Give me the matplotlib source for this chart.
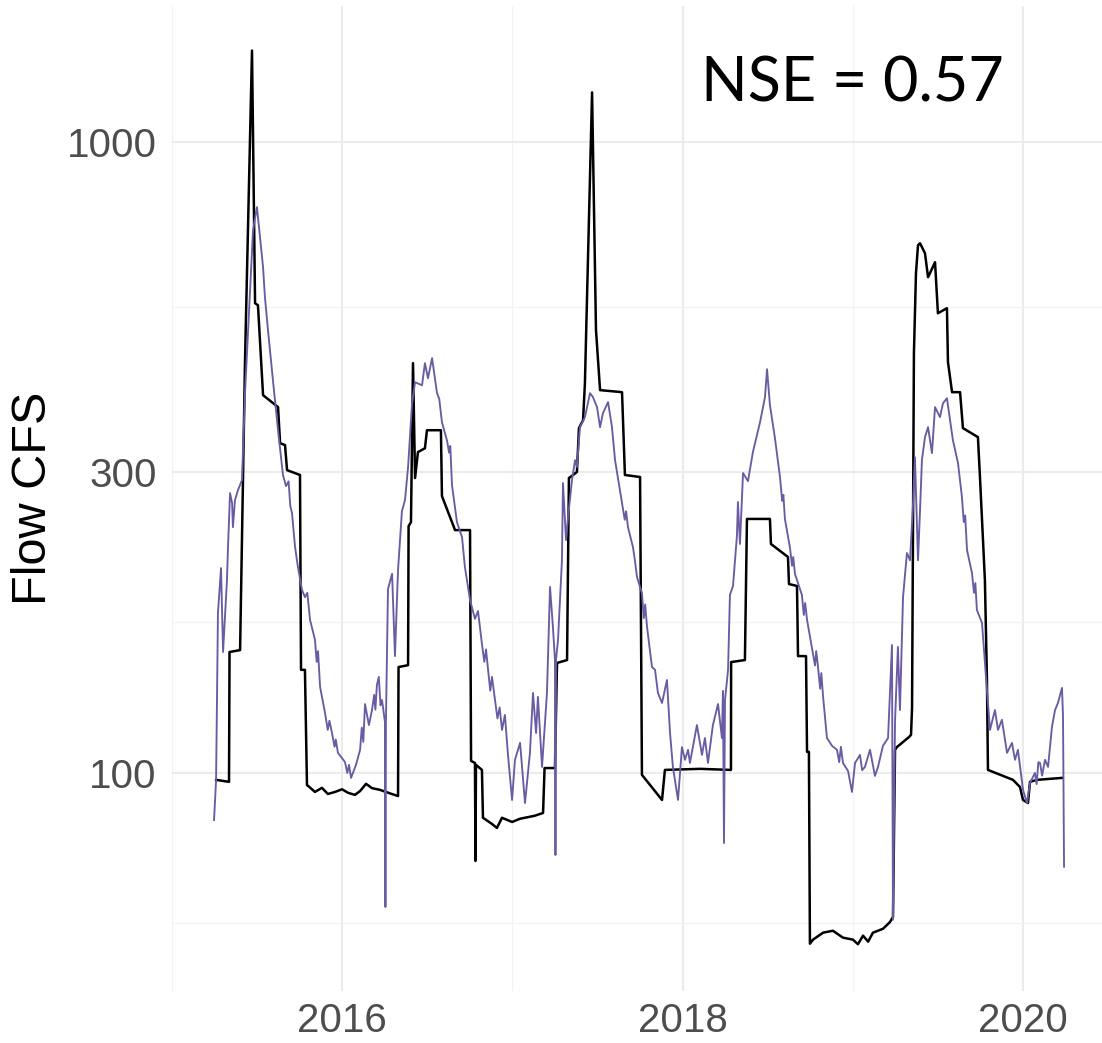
import numpy as np
import matplotlib.pyplot as plt
from matplotlib.ticker import FixedLocator, NullFormatter

plt.rcParams['font.family'] = ['Liberation Sans', 'DejaVu Sans']

# observed flow (decimal year, cfs)
obs_year = [2015.259, 2015.335, 2015.338, 2015.400, 2015.417, 2015.429, 2015.470, 2015.488,
            2015.505, 2015.535, 2015.623, 2015.635, 2015.664, 2015.676, 2015.752, 2015.758,
            2015.781, 2015.793, 2015.840, 2015.881, 2015.916, 2015.958, 2015.999, 2016.034,
            2016.075, 2016.105, 2016.140, 2016.175, 2016.222, 2016.281, 2016.328, 2016.331,
            2016.387, 2016.390, 2016.404, 2016.416, 2016.428, 2016.445, 2016.486, 2016.498,
            2016.580, 2016.586, 2016.645, 2016.663, 2016.751, 2016.757, 2016.780, 2016.783,
            2016.786, 2016.821, 2016.827, 2016.880, 2016.909, 2016.939, 2016.998, 2017.045,
            2017.074, 2017.130, 2017.180, 2017.189, 2017.250, 2017.262, 2017.321, 2017.332,
            2017.379, 2017.391, 2017.415, 2017.426, 2017.468, 2017.491, 2017.515, 2017.644,
            2017.661, 2017.750, 2017.761, 2017.879, 2017.896, 2018.102, 2018.284, 2018.285,
            2018.366, 2018.378, 2018.513, 2018.519, 2018.619, 2018.625, 2018.672, 2018.678,
            2018.725, 2018.731, 2018.742, 2018.748, 2018.766, 2018.825, 2018.883, 2018.942,
            2019.001, 2019.030, 2019.060, 2019.090, 2019.118, 2019.177, 2019.218, 2019.236,
            2019.248, 2019.259, 2019.330, 2019.342, 2019.348, 2019.359, 2019.371, 2019.383,
            2019.395, 2019.424, 2019.442, 2019.483, 2019.500, 2019.553, 2019.559, 2019.583,
            2019.630, 2019.647, 2019.735, 2019.747, 2019.776, 2019.788, 2019.794, 2019.941,
            2019.982, 2020.000, 2020.029, 2020.041, 2020.082, 2020.229]
obs_cfs = [97.5, 96.8, 155.5, 156.6, 291.3, 451.3, 1398, 555.7,
           551.6, 397.2, 380.3, 333.4, 331.0, 302.1, 296.8, 145.7,
           145.7, 95.7, 93.3, 94.7, 92.6, 93.3, 94.2, 93.0,
           92.3, 93.6, 96.1, 94.6, 94.0, 92.8, 91.9, 147.2,
           148.2, 246.2, 249.9, 446.5, 293.5, 322.7, 327.2, 349.5,
           349.5, 274.8, 249.9, 242.7, 242.7, 104.5, 103.7, 72.5,
           103.0, 101.1, 84.9, 83.0, 81.8, 84.9, 83.6, 84.6,
           84.9, 85.5, 86.4, 101.8, 101.8, 149.4, 151.0, 293.5,
           300.0, 352.2, 362.5, 415.0, 1200, 504.0, 404.6, 401.6,
           296.8, 294.6, 99.3, 90.6, 101.1, 101.5, 101.1, 149.9,
           151.0, 252.8, 252.8, 230.7, 220.0, 199.3, 197.9, 153.2,
           153.2, 108.0, 108.0, 53.6, 54.4, 55.8, 56.2, 54.8,
           54.4, 53.5, 55.2, 54.0, 55.8, 56.6, 58.0, 59.1,
           108.8, 109.9, 114.0, 114.9, 126.8, 463.0, 620.0, 686.7,
           691.7, 666.9, 611.0, 645.3, 535.8, 545.7, 448.2, 401.6,
           401.6, 352.2, 340.8, 294.6, 202.3, 140.4, 101.1, 97.5,
           95.0, 90.6, 89.6, 96.8, 97.5, 98.2]

# simulated flow (decimal year, cfs)
sim_year = [2015.247, 2015.259, 2015.270, 2015.288, 2015.300, 2015.323, 2015.329, 2015.341,
            2015.353, 2015.358, 2015.370, 2015.388, 2015.411, 2015.429, 2015.447, 2015.476,
            2015.499, 2015.517, 2015.535, 2015.546, 2015.564, 2015.593, 2015.623, 2015.652,
            2015.705, 2015.723, 2015.740, 2015.764, 2015.781, 2015.811, 2015.840, 2015.870,
            2015.899, 2015.940, 2015.975, 2016.016, 2016.052, 2016.081, 2016.105, 2016.134,
            2016.157, 2016.175, 2016.204, 2016.234, 2016.251, 2016.254, 2016.257, 2016.269,
            2016.293, 2016.310, 2016.328, 2016.351, 2016.369, 2016.387, 2016.410, 2016.428,
            2016.469, 2016.486, 2016.504, 2016.528, 2016.557, 2016.586, 2016.616, 2016.645,
            2016.674, 2016.704, 2016.721, 2016.751, 2016.780, 2016.798, 2016.821, 2016.857,
            2016.898, 2016.939, 2016.956, 2016.974, 2016.998, 2017.015, 2017.045, 2017.074,
            2017.103, 2017.121, 2017.139, 2017.150, 2017.174, 2017.203, 2017.221, 2017.238,
            2017.250, 2017.253, 2017.256, 2017.268, 2017.291, 2017.297, 2017.315, 2017.327,
            2017.350, 2017.368, 2017.379, 2017.397, 2017.426, 2017.456, 2017.473, 2017.497,
            2017.515, 2017.532, 2017.562, 2017.585, 2017.603, 2017.644, 2017.679, 2017.708,
            2017.732, 2017.761, 2017.791, 2017.820, 2017.838, 2017.855, 2017.879, 2017.908,
            2017.926, 2017.943, 2017.973, 2017.996, 2018.014, 2018.032, 2018.043, 2018.084,
            2018.114, 2018.131, 2018.149, 2018.178, 2018.208, 2018.231, 2018.237, 2018.243,
            2018.249, 2018.267, 2018.278, 2018.296, 2018.319, 2018.325, 2018.337, 2018.355,
            2018.384, 2018.413, 2018.455, 2018.484, 2018.496, 2018.513, 2018.543, 2018.572,
            2018.601, 2018.631, 2018.660, 2018.701, 2018.731, 2018.766, 2018.795, 2018.825,
            2018.848, 2018.878, 2018.907, 2018.942, 2018.972, 2018.995, 2019.013, 2019.042,
            2019.071, 2019.101, 2019.130, 2019.148, 2019.177, 2019.207, 2019.230, 2019.236,
            2019.248, 2019.265, 2019.277, 2019.295, 2019.318, 2019.336, 2019.353, 2019.365,
            2019.383, 2019.395, 2019.406, 2019.424, 2019.442, 2019.465, 2019.483, 2019.512,
            2019.530, 2019.553, 2019.571, 2019.588, 2019.618, 2019.641, 2019.671, 2019.700,
            2019.729, 2019.759, 2019.788, 2019.806, 2019.835, 2019.853, 2019.876, 2019.906,
            2019.935, 2019.953, 2019.970, 2020.000, 2020.023, 2020.041, 2020.070, 2020.100,
            2020.129, 2020.147, 2020.170, 2020.188, 2020.205, 2020.229, 2020.235, 2020.241]
sim_cfs = [84.2, 97.5, 179.3, 211.3, 155.5, 202.3, 228.2, 277.8,
           267.9, 245.3, 270.8, 281.0, 291.3, 400.2, 503.6, 725.3,
           789.5, 707.0, 633.8, 568.0, 503.6, 419.6, 349.5, 296.8,
           258.3, 228.2, 212.0, 195.0, 190.0, 174.9, 162.6, 136.9,
           124.5, 115.7, 107.6, 104.1, 98.2, 103.0, 108.8, 128.6,
           119.1, 125.8, 137.9, 130.5, 120.5, 61.3, 121.4, 195.7,
           206.9, 153.2, 209.9, 260.2, 270.8, 305.6, 384.5, 416.5,
           411.8, 446.5, 422.5, 454.8, 400.2, 360.0, 336.3, 286.1,
           249.9, 236.5, 212.0, 188.0, 175.5, 180.6, 160.1, 145.7,
           130.5, 117.0, 123.6, 106.8, 90.6, 104.9, 111.6, 89.6,
           107.6, 133.9, 115.7, 132.0, 102.2, 133.9, 197.2, 170.4,
           151.0, 74.1, 151.0, 162.6, 217.4, 288.2, 234.0, 254.6,
           291.3, 313.3, 305.6, 353.4, 366.6, 400.2, 394.5, 380.3,
           353.4, 372.0, 387.3, 353.4, 313.3, 267.9, 245.3, 228.2,
           204.4, 192.9, 170.4, 147.2, 145.7, 133.9, 129.1, 140.4,
           115.7, 102.2, 90.6, 109.9, 104.9, 108.8, 103.7, 119.1,
           106.8, 113.6, 103.7, 119.1, 128.6, 113.6, 134.9, 77.4,
           130.5, 145.7, 191.5, 197.9, 237.4, 268.9, 230.7, 298.9,
           290.2, 322.7, 360.0, 394.5, 436.7, 383.1, 338.8, 294.6,
           252.8, 227.3, 206.9, 191.5, 174.9, 154.4, 147.7, 132.4,
           113.6, 110.4, 108.8, 103.7, 100.7, 93.3, 103.7, 106.8,
           102.2, 108.8, 98.9, 102.2, 110.4, 113.6, 159.5, 58.5,
           120.9, 158.4, 125.8, 190.0, 223.2, 217.4, 264.0, 316.7,
           217.4, 261.2, 313.3, 340.8, 353.4, 321.5, 380.3, 366.6,
           385.8, 392.8, 362.5, 337.0, 310.0, 273.9, 225.6, 207.5,
           181.3, 172.9, 135.4, 117.0, 125.8, 117.0, 121.4, 107.6,
           111.6, 104.9, 108.8, 94.0, 89.6, 96.4, 100.0, 103.7,
           104.9, 102.2, 118.3, 125.8, 129.1, 136.4, 122.7, 71.0]

# short day-to-day wiggles of the simulated series on the recessions and low flows
sim_year_wiggle = [2015.670, 2015.685, 2015.695, 2015.795, 2015.850, 2015.858, 2015.915, 2015.925,
                   2015.955, 2015.962, 2016.030, 2016.040, 2016.115, 2016.124, 2016.188, 2016.195,
                   2016.215, 2016.225, 2016.570, 2016.628, 2016.635, 2016.835, 2016.845, 2016.870,
                   2016.880, 2016.912, 2016.925, 2017.660, 2017.668, 2017.718, 2017.772, 2017.780,
                   2018.585, 2018.592, 2018.643, 2018.650, 2018.712, 2018.720, 2018.778, 2018.785,
                   2018.808, 2018.815, 2018.920, 2018.930, 2019.055, 2019.652, 2019.660, 2019.712,
                   2019.720, 2020.080, 2020.090, 2020.112]
sim_cfs_wiggle = [285.0, 290.0, 265.0, 193.0, 150.0, 156.0, 117.0, 121.0,
                  110.0, 113.0, 100.0, 103.0, 118.0, 112.0, 133.0, 126.0,
                  142.0, 128.0, 392.0, 322.0, 330.0, 150.0, 157.0, 135.0,
                  142.0, 122.0, 127.0, 252.0, 260.0, 219.0, 176.0, 185.0,
                  270.0, 276.0, 213.0, 220.0, 178.0, 186.0, 148.0, 156.0,
                  136.0, 144.0, 104.0, 110.0, 101.0, 250.0, 256.0, 193.0,
                  200.0, 96.0, 104.0, 99.0]

year_ticks = [2016, 2018, 2020]
year_minor = [2015, 2017, 2019]
cfs_ticks = [100, 300, 1000]
nse = 0.57

sim_t = np.array(sim_year + sim_year_wiggle)
sim_q = np.array(sim_cfs + sim_cfs_wiggle)
order = np.argsort(sim_t, kind='stable')
sim_t, sim_q = sim_t[order], sim_q[order]

fig = plt.figure(figsize=(11.02, 10.43), dpi=100)
ax = fig.add_axes([172 / 1102, 52 / 1043, 930 / 1102, 985 / 1043])

ax.plot(obs_year, obs_cfs, color='black', lw=1.8, zorder=3)
ax.plot(sim_t, sim_q, color='#6b5ba3', lw=1.35, zorder=4)

ax.set_yscale('log')
ax.set_xlim(2015.0, 2020.464)
ax.set_ylim(45.1, 1645)

# major breaks plus midpoint minor breaks (log space for y)
ax.set_xticks(year_ticks, labels=[str(y) for y in year_ticks])
ax.xaxis.set_minor_locator(FixedLocator(year_minor))
ax.set_yticks(cfs_ticks, labels=[str(v) for v in cfs_ticks])
cfs_minor = [np.sqrt(a * b) for a, b in zip(cfs_ticks[:-1], cfs_ticks[1:])]
cfs_minor.append(cfs_ticks[0] / np.sqrt(cfs_ticks[1] / cfs_ticks[0]))
ax.yaxis.set_minor_locator(FixedLocator(cfs_minor))
ax.yaxis.set_minor_formatter(NullFormatter())
ax.xaxis.set_minor_formatter(NullFormatter())

ax.grid(which='major', color='#ebebeb', lw=1.5)
ax.grid(which='minor', color='#f2f2f2', lw=0.9)
ax.set_axisbelow(True)
for s in ax.spines.values():
    s.set_visible(False)
ax.tick_params(which='both', length=0)
ax.tick_params(axis='x', labelsize=29, labelcolor='#4d4d4d', pad=8)
ax.tick_params(axis='y', labelsize=29, labelcolor='#4d4d4d', pad=11)

fig.text(34 / 1102, 1 - 498 / 1043, 'Flow CFS', rotation=90, fontsize=35,
         ha='center', va='center', color='black')
fig.text(701 / 1102, 1 - 102 / 1043, f'NSE = {nse}', fontsize=44, family='Lato',
         ha='left', va='baseline', color='black')

fig.savefig('out.png', dpi=100)
